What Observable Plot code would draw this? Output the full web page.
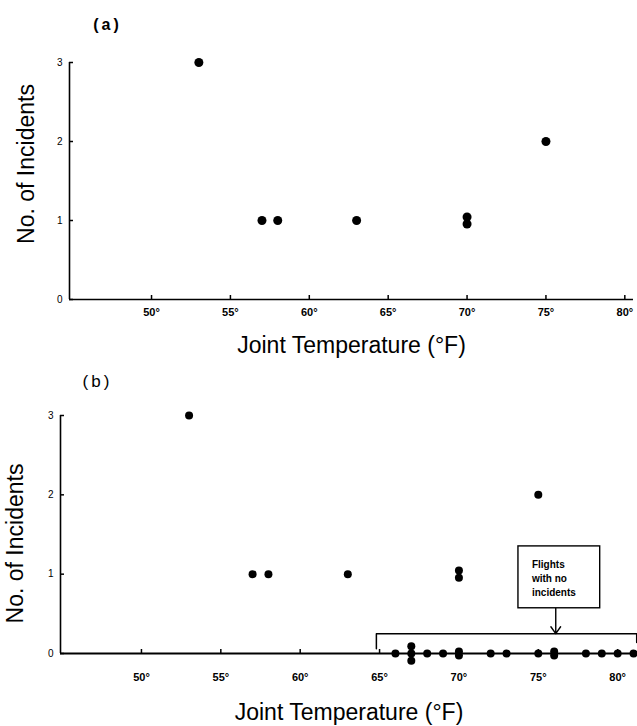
<!DOCTYPE html>
<html><head><meta charset="utf-8">
<script src="https://cdn.jsdelivr.net/npm/d3@7"></script>
<script src="https://cdn.jsdelivr.net/npm/@observablehq/plot@0.6"></script>
<style>
body{margin:0;background:#fff;}
#chart svg{display:block;}
</style></head><body><div id="chart"></div>
<script>
const incidentTemps = [53, 57, 58, 63, 70, 70, 75];
const incidentCounts = [3, 1, 1, 1, 1, 1, 2];
const noIncidentTemps = [66, 67, 67, 67, 68, 69, 70, 70, 72, 73, 75, 76, 76, 78, 79, 80, 81];
const xTicks = [50, 55, 60, 65, 70, 75, 80];
const yTicks = [0, 1, 2, 3];
const panelLabels = ["(a)", "(b)"];
const xTitle = "Joint Temperature (°F)";
const yTitle = "No. of Incidents";
const noteText = "Flights\nwith no\nincidents";
const bracketX = [64.8, 81.2];
const bracketY = [0.06, 0.25, 0.14];
const noteBoxX = [73.75, 78.9];
const noteBoxY = [0.57, 1.35];
const noteArrowX = 76.1;
const noteTextPos = [74.6, 0.96];

const font = "'Liberation Sans', Arial, Helvetica, sans-serif";

// duplicate flights at the same temperature are drawn slightly stacked
function stack(rows, gapFor) {
  const groups = d3.group(rows, d => d.temp + "|" + d.count);
  const out = [];
  for (const g of groups.values()) {
    const gap = gapFor(g);
    g.forEach((d, i) => out.push({...d, yy: d.count + ((g.length - 1) / 2 - i) * gap}));
  }
  return out;
}

const incidentRows = incidentTemps.map((t, i) => ({temp: t, count: incidentCounts[i]}));
const zeroRows = noIncidentTemps.map(t => ({temp: t, count: 0}));

const rowsA = stack(incidentRows, () => 0.09);
const rowsB = stack(incidentRows.concat(zeroRows), g => (g[0].count === 0 && g.length === 2 ? 0.05 : 0.09));

const xDomA = [44.8, 80.55];
const xDomB = [44.9, 81.25];

const a = Plot.plot({
  width: 637, height: 360, marginLeft: 69, marginRight: 4, marginTop: 62, marginBottom: 61,
  style: {fontFamily: font, background: "#fff", color: "#000"},
  x: {domain: xDomA}, y: {domain: [0, 3]},
  marks: [
    Plot.ruleY([0], {stroke: "#000", strokeWidth: 1.6}),
    Plot.ruleX([xDomA[0]], {stroke: "#000", strokeWidth: 1.6}),
    Plot.axisX(xTicks, {tickSize: -4, tickPadding: 13, tickFormat: d => d + "°", fontSize: 11, fontWeight: "bold", strokeWidth: 1.5, label: null}),
    Plot.axisY(yTicks, {tickSize: -4, tickPadding: 11, tickFormat: d => String(d), fontSize: 10, strokeWidth: 1.5, label: null}),
    Plot.dot(rowsA, {x: "temp", y: "yy", r: 4.5, fill: "#000"}),
    Plot.text([xTitle], {text: d => d, frameAnchor: "bottom", textAnchor: "middle", lineAnchor: "middle", dy: 46, fontSize: 23}),
    Plot.text([yTitle], {text: d => d, frameAnchor: "left", textAnchor: "middle", lineAnchor: "middle", rotate: -90, dx: -43, dy: -17, fontSize: 23}),
    Plot.text([panelLabels[0]], {text: d => d, frameAnchor: "top-left", textAnchor: "middle", lineAnchor: "middle", dx: 38, dy: -38, fontSize: 16, fontWeight: "bold"})
  ]
});

const b = Plot.plot({
  width: 637, height: 366, marginLeft: 60, marginRight: 0, marginTop: 55, marginBottom: 73,
  style: {fontFamily: font, background: "#fff", color: "#000"},
  x: {domain: xDomB}, y: {domain: [0, 3]},
  marks: [
    Plot.ruleY([0], {stroke: "#000", strokeWidth: 2}),
    Plot.ruleX([xDomB[0]], {stroke: "#000", strokeWidth: 1.6}),
    Plot.axisX(xTicks, {tickSize: -4, tickPadding: 24, tickFormat: d => d + "°", fontSize: 11, fontWeight: "bold", strokeWidth: 1.5, label: null}),
    Plot.axisY(yTicks, {tickSize: -4, tickPadding: 11, tickFormat: d => String(d), fontSize: 10, strokeWidth: 1.5, label: null}),
    Plot.line([[bracketX[0], bracketY[0]], [bracketX[0], bracketY[1]], [bracketX[1], bracketY[1]], [bracketX[1], bracketY[2]]], {x: d => d[0], y: d => d[1], stroke: "#000", strokeWidth: 1.5}),
    Plot.arrow([0], {x: noteArrowX, y1: noteBoxY[0], y2: bracketY[1], stroke: "#000", strokeWidth: 1.4, headLength: 10, headAngle: 70}),
    Plot.rect([0], {x1: noteBoxX[0], x2: noteBoxX[1], y1: noteBoxY[0], y2: noteBoxY[1], fill: "#fff", stroke: "#000", strokeWidth: 1.4}),
    Plot.text([noteText], {text: d => d, x: noteTextPos[0], y: noteTextPos[1], textAnchor: "start", lineHeight: 1.4, fontSize: 10, fontWeight: 900}),
    Plot.dot(rowsB, {x: "temp", y: "yy", r: 4, fill: "#000"}),
    Plot.text([xTitle], {text: d => d, frameAnchor: "bottom", textAnchor: "middle", lineAnchor: "middle", dy: 59, fontSize: 23}),
    Plot.text([yTitle], {text: d => d, frameAnchor: "left", textAnchor: "middle", lineAnchor: "middle", rotate: -90, dx: -45, dy: 9, fontSize: 23}),
    Plot.text([panelLabels[1]], {text: d => d, frameAnchor: "top-left", textAnchor: "middle", lineAnchor: "middle", dx: 37, dy: -34, fontSize: 17})
  ]
});

for (const [svg, lab] of [[a, panelLabels[0]], [b, panelLabels[1]]]) {
  d3.select(svg).selectAll("text").filter(function() { return this.textContent === lab; }).style("letter-spacing", "3px");
}

document.getElementById("chart").append(a, b);
</script>
</body></html>
